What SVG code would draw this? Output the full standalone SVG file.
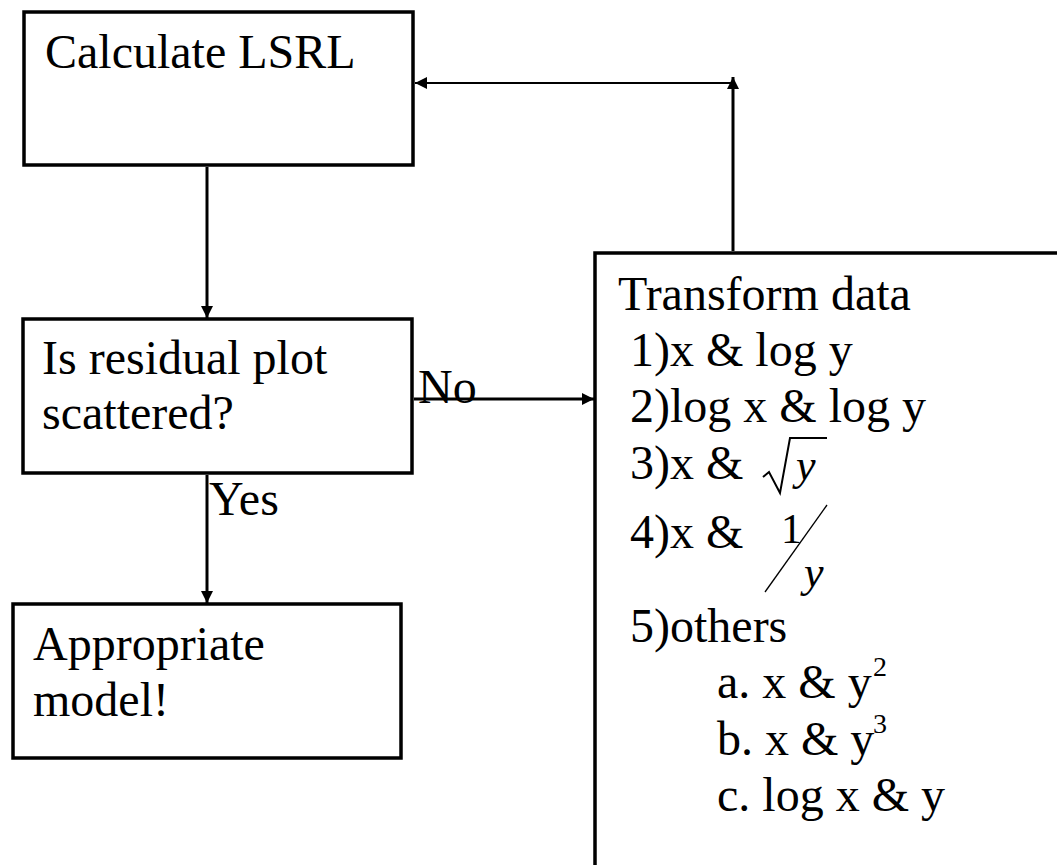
<svg xmlns="http://www.w3.org/2000/svg" width="1057" height="865" viewBox="0 0 1057 865">
<defs>
<marker id="ah" markerUnits="userSpaceOnUse" markerWidth="14" markerHeight="14" refX="12" refY="6" orient="auto">
<path d="M0,0 L12,6 L0,12 z" fill="#000"/>
</marker>
</defs>
<rect width="1057" height="865" fill="#fff"/>
<g id="n1">
<rect x="24" y="12" width="389" height="153" fill="#fff" stroke="#000" stroke-width="3.5"/>
<text font-family="Liberation Serif" font-size="48" x="45" y="68">Calculate LSRL</text>
</g>
<g id="n2">
<rect x="23" y="319" width="389" height="154" fill="#fff" stroke="#000" stroke-width="3.5"/>
<text font-family="Liberation Serif" font-size="48" x="42" y="374">Is residual plot</text>
<text font-family="Liberation Serif" font-size="48" x="42" y="429">scattered?</text>
</g>
<g id="n3">
<rect x="13" y="604" width="388" height="154" fill="#fff" stroke="#000" stroke-width="3.5"/>
<text font-family="Liberation Serif" font-size="48" x="33" y="660">Appropriate</text>
<text font-family="Liberation Serif" font-size="48" x="33" y="716">model!</text>
</g>
<g id="n4">
<rect x="595" y="253" width="500" height="660" fill="#fff" stroke="#000" stroke-width="3.5"/>
<text font-family="Liberation Serif" font-size="48" x="618" y="310">Transform data</text>
<text font-family="Liberation Serif" font-size="48" x="630" y="366">1)x &amp; log y</text>
<text font-family="Liberation Serif" font-size="48" x="630" y="422">2)log x &amp; log y</text>
<text font-family="Liberation Serif" font-size="48" x="630" y="479">3)x &amp;</text>
<path d="M763,477 L769,472 L780,493 L790,438 H827" fill="none" stroke="#000" stroke-width="2"/>
<text font-family="Liberation Serif" font-size="44" font-style="italic" x="796" y="480">y</text>
<text font-family="Liberation Serif" font-size="48" x="630" y="548">4)x &amp;</text>
<text font-family="Liberation Serif" font-size="42" x="781" y="543">1</text>
<line x1="765" y1="592" x2="827" y2="505" stroke="#000" stroke-width="1.3"/>
<text font-family="Liberation Serif" font-size="44" font-style="italic" x="804" y="587">y</text>
<text font-family="Liberation Serif" font-size="48" x="630" y="642">5)others</text>
<text font-family="Liberation Serif" font-size="48" x="717" y="698">a. x &amp; y</text>
<text font-family="Liberation Serif" font-size="28" x="873" y="676">2</text>
<text font-family="Liberation Serif" font-size="48" x="717" y="755">b. x &amp; y</text>
<text font-family="Liberation Serif" font-size="28" x="873" y="733">3</text>
<text font-family="Liberation Serif" font-size="48" x="717" y="811">c. log x &amp; y</text>
</g>
<g id="connectors" stroke="#000" fill="none">
<line x1="207" y1="167" x2="207" y2="318" stroke-width="3" marker-end="url(#ah)"/>
<line x1="207" y1="475" x2="207" y2="603" stroke-width="3" marker-end="url(#ah)"/>
<line x1="414" y1="399" x2="594" y2="399" stroke-width="3" marker-end="url(#ah)"/>
<line x1="733" y1="251" x2="733" y2="77" stroke-width="3" marker-end="url(#ah)"/>
<line x1="733" y1="83" x2="415" y2="83" stroke-width="2" marker-end="url(#ah)"/>
</g>
<g id="labels">
<text font-family="Liberation Serif" font-size="48" x="418" y="403">No</text>
<text font-family="Liberation Serif" font-size="48" x="209" y="515">Yes</text>
</g>
</svg>
